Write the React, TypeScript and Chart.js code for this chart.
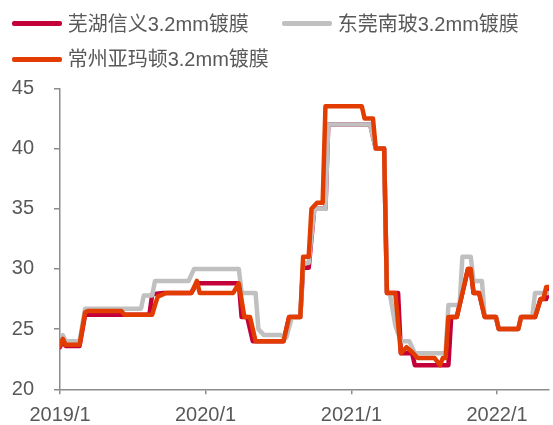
import { useEffect, useRef } from 'react';
import { Chart, registerables } from 'chart.js';

Chart.register(...registerables);

// Series names (legend order)
const seriesNames = ['芜湖信义3.2mm镀膜', '东莞南玻3.2mm镀膜', '常州亚玛顿3.2mm镀膜'];
const seriesColors = ['#C4003A', '#C0C0C0', '#E23C00'];

// Weeks since 2019/1 and price at each observation where the price changes
const xinyiWeeks = [0, 1, 2, 7, 9, 32, 33, 37, 47, 49, 64, 65, 67, 69, 80, 82, 86, 87, 89, 91, 95, 96, 111, 113, 116, 117, 121, 122, 126, 127, 139, 140, 142, 146, 147, 148, 150, 152, 156, 157, 164, 165, 170, 172, 174, 175];
const xinyiPrices = [23.5, 24.0, 23.6, 23.6, 26.2, 26.2, 27.9, 28.0, 28.0, 28.8, 28.8, 26.0, 26.0, 24.0, 24.0, 26.0, 26.0, 30.1, 30.1, 35.0, 35.0, 42.0, 42.0, 40.0, 40.0, 28.0, 28.0, 23.0, 23.0, 22.0, 22.0, 26.0, 26.0, 30.0, 30.0, 28.0, 28.0, 26.0, 26.0, 25.0, 25.0, 26.0, 26.0, 27.5, 27.5, 28.2];

const nanboWeeks = [0, 1, 2, 7, 9, 29, 30, 33, 34, 46, 48, 64, 65, 70, 71, 73, 79, 81, 83, 86, 87, 89, 91, 95, 96, 111, 113, 116, 117, 118, 120, 122, 125, 127, 138, 139, 143, 144, 147, 148, 151, 152, 156, 157, 164, 165, 169, 170, 175];
const nanboPrices = [23.7, 24.5, 24.0, 24.0, 26.7, 26.7, 27.8, 27.8, 29.0, 29.0, 30.0, 30.0, 28.0, 28.0, 25.0, 24.5, 24.5, 24.3, 26.0, 26.0, 30.5, 30.5, 35.0, 35.0, 42.0, 42.0, 40.0, 40.0, 28.0, 28.0, 25.3, 24.0, 24.0, 23.0, 23.0, 27.0, 27.0, 31.0, 31.0, 29.0, 29.0, 26.0, 26.0, 25.0, 25.0, 26.0, 26.0, 28.0, 28.0];

const yamaWeeks = [0, 1, 2, 7, 9, 10, 22, 23, 33, 34, 35, 36, 38, 47, 49, 50, 62, 64, 66, 68, 70, 80, 82, 86, 87, 89, 90, 92, 94, 95, 108, 109, 112, 113, 116, 117, 120, 122, 124, 126, 128, 134, 136, 137, 138, 139, 142, 146, 147, 148, 150, 152, 156, 157, 164, 165, 170, 172, 173, 174, 175];
const yamaPrices = [23.6, 24.2, 23.7, 23.7, 26.4, 26.5, 26.5, 26.2, 26.2, 27.0, 27.7, 27.8, 28.0, 28.0, 29.0, 28.0, 28.0, 28.8, 26.0, 26.0, 24.0, 24.0, 26.0, 26.0, 31.0, 31.0, 35.0, 35.5, 35.5, 43.5, 43.5, 42.5, 42.5, 40.0, 40.0, 28.0, 28.0, 23.0, 23.5, 23.1, 22.6, 22.6, 22.0, 22.6, 22.6, 26.0, 26.0, 30.0, 30.0, 28.0, 28.0, 26.0, 26.0, 25.0, 25.0, 26.0, 26.0, 27.5, 27.5, 28.5, 28.5];

// Axes
const xTickWeeks = [0, 52.1, 104.3, 156.4];
const xTickLabels = ['2019/1', '2020/1', '2021/1', '2022/1'];
const xMinWeek = 0;
const xMaxWeek = 175;
const yMin = 20;
const yMax = 45;
const yStep = 5;

const textColor = '#595959';
const axisColor = '#8C8C8C';
const latinFont = "'Liberation Sans', Arial, 'Noto Sans CJK SC', sans-serif";

export default function App() {
  const canvasRef = useRef<HTMLCanvasElement | null>(null);

  useEffect(() => {
    document.body.style.margin = '0';
    const canvas = canvasRef.current;
    if (!canvas) return;
    const toPoints = (xs: number[], ys: number[]) => xs.map((x, i) => ({ x, y: ys[i] }));
    const tickFont = { family: latinFont, size: 20 };

    const chart = new Chart(canvas, {
      type: 'line',
      data: {
        datasets: [
          {
            label: seriesNames[0],
            data: toPoints(xinyiWeeks, xinyiPrices),
            borderColor: seriesColors[0],
            backgroundColor: seriesColors[0],
            order: 3,
          },
          {
            label: seriesNames[1],
            data: toPoints(nanboWeeks, nanboPrices),
            borderColor: seriesColors[1],
            backgroundColor: seriesColors[1],
            order: 2,
          },
          {
            label: seriesNames[2],
            data: toPoints(yamaWeeks, yamaPrices),
            borderColor: seriesColors[2],
            backgroundColor: seriesColors[2],
            order: 1,
          },
        ],
      },
      options: {
        animation: false,
        responsive: false,
        maintainAspectRatio: false,
        layout: { padding: { top: 88.3, right: 4, left: 0, bottom: 0 } },
        plugins: {
          legend: { display: false },
          tooltip: { enabled: false },
        },
        elements: {
          point: { radius: 0, hoverRadius: 0 },
          line: {
            borderWidth: 4.5,
            tension: 0,
            borderJoinStyle: 'round',
            borderCapStyle: 'round',
            fill: false,
          },
        },
        scales: {
          x: {
            type: 'linear',
            min: xMinWeek,
            max: xMaxWeek,
            afterBuildTicks: (scale: any) => {
              scale.ticks = xTickWeeks.map((v) => ({ value: v }));
            },
            afterFit: (scale: any) => {
              scale.height = 35.7;
            },
            ticks: {
              autoSkip: false,
              maxRotation: 0,
              minRotation: 0,
              padding: 9,
              color: textColor,
              font: tickFont,
              callback: (_v: any, i: number) => xTickLabels[i] ?? '',
            },
            grid: {
              drawOnChartArea: false,
              drawTicks: true,
              tickLength: 5,
              color: axisColor,
              lineWidth: 1.5,
            },
            border: { display: true, color: axisColor, width: 1.5 },
          },
          y: {
            min: yMin,
            max: yMax,
            afterFit: (scale: any) => {
              scale.width = 60;
            },
            ticks: {
              stepSize: yStep,
              padding: 20,
              color: textColor,
              font: tickFont,
            },
            grid: {
              drawOnChartArea: false,
              drawTicks: true,
              tickLength: 6,
              color: axisColor,
              lineWidth: 1.5,
            },
            border: { display: true, color: axisColor, width: 1.5 },
          },
        },
      } as any,
    });

    return () => chart.destroy();
  }, []);

  const legendRows: { idx: number; left: number; top: number }[] = [
    { idx: 0, left: 11.7, top: 23.7 },
    { idx: 1, left: 281.7, top: 23.7 },
    { idx: 2, left: 11.7, top: 59.3 },
  ];

  return (
    <div style={{ position: 'relative', width: 553, height: 425, overflow: 'hidden', background: '#fff' }}>
      <canvas ref={canvasRef} width={553} height={425} style={{ display: 'block', width: 553, height: 425 }} />
      {legendRows.map((r) => (
        <div
          key={r.idx}
          style={{
            position: 'absolute',
            left: r.left,
            top: r.top - 12,
            height: 24,
            display: 'flex',
            alignItems: 'center',
            whiteSpace: 'nowrap',
          }}
        >
          <span
            style={{
              display: 'inline-block',
              width: 50,
              height: 4.5,
              borderRadius: 2,
              background: seriesColors[r.idx],
              marginRight: 6,
            }}
          />
          <span
            style={{
              fontFamily: latinFont,
              fontSize: 20,
              lineHeight: '24px',
              color: textColor,
            }}
          >
            {seriesNames[r.idx]}
          </span>
        </div>
      ))}
    </div>
  );
}
